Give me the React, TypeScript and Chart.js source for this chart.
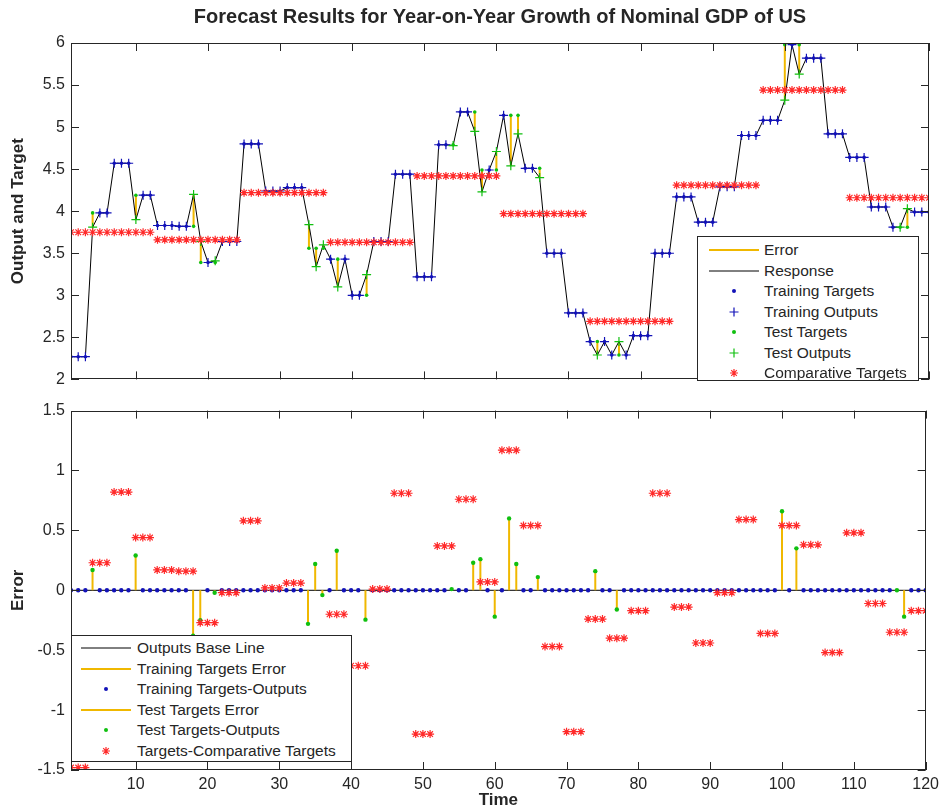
import React, { useEffect, useRef } from "react";
import { Chart, registerables } from "chart.js";

Chart.register(...registerables);

// ---------------- data ----------------
const timeSteps: number[] = Array.from({ length: 120 }, (_, i) => i + 1);

const targets: number[] = [
  2.27, 2.27, 2.27, 3.98, 3.98, 3.98, 4.57, 4.57, 4.57, 4.19, 4.19, 4.19,
  3.83, 3.83, 3.83, 3.82, 3.82, 3.82, 3.39, 3.39, 3.39, 3.64, 3.64, 3.64,
  4.8, 4.8, 4.8, 4.24, 4.24, 4.24, 4.28, 4.28, 4.28, 3.56, 3.56, 3.56,
  3.43, 3.43, 3.43, 3.0, 3.0, 3.0, 3.64, 3.64, 3.64, 4.44, 4.44, 4.44,
  3.22, 3.22, 3.22, 4.79, 4.79, 4.79, 5.18, 5.18, 5.18, 4.49, 4.49, 4.49,
  5.14, 5.14, 5.14, 4.51, 4.51, 4.51, 3.5, 3.5, 3.5, 2.79, 2.79, 2.79,
  2.45, 2.45, 2.45, 2.29, 2.29, 2.29, 2.52, 2.52, 2.52, 3.5, 3.5, 3.5,
  4.17, 4.17, 4.17, 3.87, 3.87, 3.87, 4.29, 4.29, 4.29, 4.9, 4.9, 4.9,
  5.08, 5.08, 5.08, 5.98, 5.98, 5.98, 5.82, 5.82, 5.82, 4.92, 4.92, 4.92,
  4.64, 4.64, 4.64, 4.05, 4.05, 4.05, 3.81, 3.81, 3.81, 3.99, 3.99, 3.99,
];

const comparativeTargets: number[] = [
  3.75, 3.75, 3.75, 3.75, 3.75, 3.75, 3.75, 3.75, 3.75, 3.75, 3.75, 3.75,
  3.66, 3.66, 3.66, 3.66, 3.66, 3.66, 3.66, 3.66, 3.66, 3.66, 3.66, 3.66,
  4.22, 4.22, 4.22, 4.22, 4.22, 4.22, 4.22, 4.22, 4.22, 4.22, 4.22, 4.22,
  3.63, 3.63, 3.63, 3.63, 3.63, 3.63, 3.63, 3.63, 3.63, 3.63, 3.63, 3.63,
  4.42, 4.42, 4.42, 4.42, 4.42, 4.42, 4.42, 4.42, 4.42, 4.42, 4.42, 4.42,
  3.97, 3.97, 3.97, 3.97, 3.97, 3.97, 3.97, 3.97, 3.97, 3.97, 3.97, 3.97,
  2.69, 2.69, 2.69, 2.69, 2.69, 2.69, 2.69, 2.69, 2.69, 2.69, 2.69, 2.69,
  4.31, 4.31, 4.31, 4.31, 4.31, 4.31, 4.31, 4.31, 4.31, 4.31, 4.31, 4.31,
  5.44, 5.44, 5.44, 5.44, 5.44, 5.44, 5.44, 5.44, 5.44, 5.44, 5.44, 5.44,
  4.16, 4.16, 4.16, 4.16, 4.16, 4.16, 4.16, 4.16, 4.16, 4.16, 4.16, 4.16,
];

const testTimes: number[] = [4, 10, 18, 19, 21, 34, 35, 36, 38, 42, 54, 57, 58, 60, 62, 63, 66, 74, 77, 100, 102, 116, 117];
const testOutputs: number[] = [3.81, 3.9, 4.2, 3.64, 3.41, 3.84, 3.34, 3.6, 3.1, 3.245, 4.78, 4.95, 4.23, 4.71, 4.54, 4.92, 4.4, 2.29, 2.45, 5.32, 5.63, 3.81, 4.03];

const xTicks: number[] = [10, 20, 30, 40, 50, 60, 70, 80, 90, 100, 110, 120];
const topYTicks: number[] = [2, 2.5, 3, 3.5, 4, 4.5, 5, 5.5, 6];
const bottomYTicks: number[] = [-1.5, -1, -0.5, 0, 0.5, 1, 1.5];

const TITLE = "Forecast Results for Year-on-Year Growth of Nominal GDP of US";

// ---------------- styles ----------------
const FONT = "'Liberation Sans', Arial, Helvetica, sans-serif";
const INK = "#262626";
const BLUE = "#1212b8";
const GREEN = "#10c010";
const RED = "#ff2a2a";
const YELLOW = "#f0b800";

// ---------------- derived ----------------
const outputs: number[] = targets.map((v, i) => {
  const k = testTimes.indexOf(timeSteps[i]);
  return k >= 0 ? testOutputs[k] : v;
});
const isTest = (t: number) => testTimes.indexOf(t) >= 0;
const trainIdx = timeSteps.map((t, i) => i).filter((i) => !isTest(timeSteps[i]));
const testIdx = timeSteps.map((t, i) => i).filter((i) => isTest(timeSteps[i]));

function stems(idx: number[], from: (i: number) => number, to: (i: number) => number) {
  const out: any[] = [];
  idx.forEach((i) => {
    out.push({ x: timeSteps[i], y: from(i) });
    out.push({ x: timeSteps[i], y: to(i) });
    out.push({ x: timeSteps[i], y: null });
  });
  return out;
}

const pts = (idx: number[], f: (i: number) => number) => idx.map((i) => ({ x: timeSteps[i], y: f(i) }));

const boxPlugin = {
  id: "matlabBox",
  afterDatasetsDraw(chart: any) {
    const { ctx, chartArea: a, scales } = chart;
    ctx.save();
    ctx.strokeStyle = INK;
    ctx.lineWidth = 1;
    ctx.strokeRect(Math.round(a.left) + 0.5, Math.round(a.top) + 0.5, Math.round(a.width) - 1, Math.round(a.height) - 1);
    const tl = 8;
    ctx.beginPath();
    xTicks.forEach((v) => {
      const px = Math.round(scales.x.getPixelForValue(v)) + 0.5;
      ctx.moveTo(px, a.top);
      ctx.lineTo(px, a.top + tl);
      ctx.moveTo(px, a.bottom);
      ctx.lineTo(px, a.bottom - tl);
    });
    scales.y.ticks.forEach((t: any) => {
      const py = Math.round(scales.y.getPixelForValue(t.value)) + 0.5;
      ctx.moveTo(a.left, py);
      ctx.lineTo(a.left + tl, py);
      ctx.moveTo(a.right, py);
      ctx.lineTo(a.right - tl, py);
    });
    ctx.stroke();
    ctx.restore();
  },
};

const titlePlugin = {
  id: "matlabTitle",
  afterDraw(chart: any) {
    const { ctx, chartArea: a } = chart;
    ctx.save();
    ctx.fillStyle = INK;
    ctx.font = `bold 20px ${FONT}`;
    ctx.textAlign = "center";
    ctx.textBaseline = "middle";
    ctx.fillText(TITLE, (a.left + a.right) / 2, 17);
    ctx.restore();
  },
};

function yScale(min: number, max: number, ticks: number[], label: string) {
  return {
    type: "linear",
    min,
    max,
    afterBuildTicks: (s: any) => {
      s.ticks = ticks.map((v) => ({ value: v }));
    },
    afterFit: (s: any) => {
      s.width = 71;
    },
    grid: { display: false, drawTicks: false },
    border: { display: false },
    ticks: { padding: 6, color: INK, font: { size: 16, family: FONT }, callback: (v: any) => String(v), autoSkip: false },
    title: { display: true, text: label, color: INK, font: { size: 17, weight: "bold", family: FONT }, padding: { top: 8, bottom: 0 } },
  };
}

function TopChart() {
  const ref = useRef<HTMLCanvasElement>(null);
  useEffect(() => {
    const all = timeSteps.map((t, i) => i);
    const chart = new Chart(ref.current!, {
      type: "line",
      data: {
        datasets: [
          { label: "Comparative Targets", data: pts(all, (i) => comparativeTargets[i]), showLine: false, pointStyle: "star", pointRadius: 4, borderColor: RED, backgroundColor: RED, pointBorderWidth: 1.2, order: 0 },
          { label: "Test Outputs", data: pts(testIdx, (i) => outputs[i]), showLine: false, pointStyle: "cross", pointRadius: 4.5, borderColor: GREEN, pointBorderWidth: 1.2, order: 1 },
          { label: "Test Targets", data: pts(testIdx, (i) => targets[i]), showLine: false, pointStyle: "circle", pointRadius: 1.8, pointBorderWidth: 0, backgroundColor: GREEN, borderColor: GREEN, order: 2 },
          { label: "Training Outputs", data: pts(trainIdx, (i) => outputs[i]), showLine: false, pointStyle: "cross", pointRadius: 4.5, borderColor: BLUE, pointBorderWidth: 1.2, order: 3 },
          { label: "Training Targets", data: pts(trainIdx, (i) => targets[i]), showLine: false, pointStyle: "circle", pointRadius: 1.8, pointBorderWidth: 0, backgroundColor: BLUE, borderColor: BLUE, order: 4 },
          { label: "Response", data: pts(all, (i) => outputs[i]), borderColor: "#000", borderWidth: 1, pointRadius: 0, tension: 0, order: 5 },
          { label: "Error", data: stems(all, (i) => targets[i], (i) => outputs[i]), borderColor: YELLOW, borderWidth: 2, pointRadius: 0, spanGaps: false, order: 6 },
        ] as any,
      },
      options: {
        responsive: false,
        animation: false,
        events: [],
        layout: { padding: { top: 43, right: 15, bottom: 7, left: 0 } },
        plugins: { legend: { display: false }, tooltip: { enabled: false }, title: { display: false } },
        scales: {
          x: { type: "linear", min: 1, max: 120, display: false },
          y: yScale(2, 6, topYTicks, "Output and Target"),
        } as any,
      },
      plugins: [boxPlugin, titlePlugin],
    });
    return () => chart.destroy();
  }, []);
  return <canvas ref={ref} width={944} height={395} style={{ position: "absolute", left: 0, top: 0, width: 944, height: 395 }} />;
}

function BottomChart() {
  const ref = useRef<HTMLCanvasElement>(null);
  useEffect(() => {
    const all = timeSteps.map((t, i) => i);
    const err = (i: number) => targets[i] - outputs[i];
    const ends = [0, timeSteps.length - 1];
    const chart = new Chart(ref.current!, {
      type: "line",
      data: {
        datasets: [
          { label: "Targets-Comparative Targets", data: pts(all, (i) => targets[i] - comparativeTargets[i]), showLine: false, pointStyle: "star", pointRadius: 4, borderColor: RED, backgroundColor: RED, pointBorderWidth: 1.2, order: 0 },
          { label: "Test Targets-Outputs", data: pts(testIdx, err), showLine: false, pointStyle: "circle", pointRadius: 2.2, pointBorderWidth: 0, backgroundColor: GREEN, borderColor: GREEN, order: 1 },
          { label: "Test Targets Error", data: stems(testIdx, () => 0, err), borderColor: YELLOW, borderWidth: 2, pointRadius: 0, spanGaps: false, order: 2 },
          { label: "Training Targets-Outputs", data: pts(trainIdx, err), showLine: false, pointStyle: "circle", pointRadius: 2.2, pointBorderWidth: 0, backgroundColor: BLUE, borderColor: BLUE, order: 3 },
          { label: "Training Targets Error", data: stems(trainIdx, () => 0, err), borderColor: YELLOW, borderWidth: 2, pointRadius: 0, spanGaps: false, order: 4 },
          { label: "Outputs Base Line", data: pts(ends, () => 0), borderColor: "#000", borderWidth: 1, pointRadius: 0, order: 5 },
        ] as any,
      },
      options: {
        responsive: false,
        animation: false,
        events: [],
        layout: { padding: { top: 8, right: 15, bottom: 0, left: 0 } },
        plugins: { legend: { display: false }, tooltip: { enabled: false }, title: { display: false } },
        scales: {
          x: {
            type: "linear",
            min: 1,
            max: 120,
            position: "bottom",
            afterBuildTicks: (s: any) => {
              s.ticks = xTicks.map((v) => ({ value: v }));
            },
            afterFit: (s: any) => {
              s.height = 41;
            },
            grid: { display: false, drawTicks: false },
            border: { display: false },
            ticks: { padding: 5, color: INK, font: { size: 16, family: FONT }, maxRotation: 0, autoSkip: false, callback: (v: any) => String(v) },
            title: { display: true, text: "Time", color: INK, font: { size: 17, weight: "bold", family: FONT }, padding: { top: 0, bottom: 0 } },
          },
          y: yScale(-1.5, 1.5, bottomYTicks, "Error"),
        } as any,
      },
      plugins: [boxPlugin],
    });
    return () => chart.destroy();
  }, []);
  return <canvas ref={ref} width={944} height={416} style={{ position: "absolute", left: 0, top: 395, width: 944, height: 416 }} />;
}

type Sym = "line" | "dot" | "plus" | "star";

function Symbol({ kind, color, x1, x2, width }: { kind: Sym; color: string; x1: number; x2: number; width: number }) {
  const cx = (x1 + x2) / 2;
  const cy = 10;
  return (
    <svg width={width} height={20} style={{ position: "absolute", left: 0, top: 0 }}>
      {kind === "line" && <line x1={x1} x2={x2} y1={cy} y2={cy} stroke={color} strokeWidth={color === YELLOW ? 2 : 1} />}
      {kind === "dot" && <circle cx={cx} cy={cy} r={2} fill={color} />}
      {kind === "plus" && <path d={`M${cx - 4.5},${cy} H${cx + 4.5} M${cx},${cy - 4.5} V${cy + 4.5}`} stroke={color} strokeWidth={1.2} />}
      {kind === "star" && (
        <path d={`M${cx - 4},${cy} H${cx + 4} M${cx},${cy - 4} V${cy + 4} M${cx - 2.8},${cy - 2.8} L${cx + 2.8},${cy + 2.8} M${cx - 2.8},${cy + 2.8} L${cx + 2.8},${cy - 2.8}`} stroke={color} strokeWidth={1.2} />
      )}
    </svg>
  );
}

function Legend({ items, left, top, width, height, padTop, x1, x2, textLeft }: any) {
  return (
    <div
      style={{
        position: "absolute",
        left,
        top,
        width,
        height,
        boxSizing: "border-box",
        border: `1px solid ${INK}`,
        background: "#fff",
        paddingTop: padTop,
        fontFamily: FONT,
        fontSize: 15.5,
        color: INK,
      }}
    >
      {items.map((it: any) => (
        <div key={it.label} style={{ position: "relative", height: 20.5, lineHeight: "20px" }}>
          <Symbol kind={it.kind} color={it.color} x1={x1} x2={x2} width={textLeft} />
          <span style={{ position: "absolute", left: textLeft, top: 0, whiteSpace: "nowrap" }}>{it.label}</span>
        </div>
      ))}
    </div>
  );
}

const topLegendItems = [
  { label: "Error", kind: "line", color: YELLOW },
  { label: "Response", kind: "line", color: "#000" },
  { label: "Training Targets", kind: "dot", color: BLUE },
  { label: "Training Outputs", kind: "plus", color: BLUE },
  { label: "Test Targets", kind: "dot", color: GREEN },
  { label: "Test Outputs", kind: "plus", color: GREEN },
  { label: "Comparative Targets", kind: "star", color: RED },
];

const bottomLegendItems = [
  { label: "Outputs Base Line", kind: "line", color: "#000" },
  { label: "Training Targets Error", kind: "line", color: YELLOW },
  { label: "Training Targets-Outputs", kind: "dot", color: BLUE },
  { label: "Test Targets Error", kind: "line", color: YELLOW },
  { label: "Test Targets-Outputs", kind: "dot", color: GREEN },
  { label: "Targets-Comparative Targets", kind: "star", color: RED },
];

export default function App() {
  return (
    <div style={{ position: "fixed", left: 0, top: 0, width: 944, height: 811, background: "#fff", overflow: "hidden" }}>
      <TopChart />
      <BottomChart />
      <Legend items={topLegendItems} left={697} top={236} width={222} height={145} padTop={3} x1={11} x2={61} textLeft={66} />
      <Legend items={bottomLegendItems} left={71} top={635} width={281} height={127} padTop={2} x1={9} x2={59} textLeft={65} />
    </div>
  );
}
